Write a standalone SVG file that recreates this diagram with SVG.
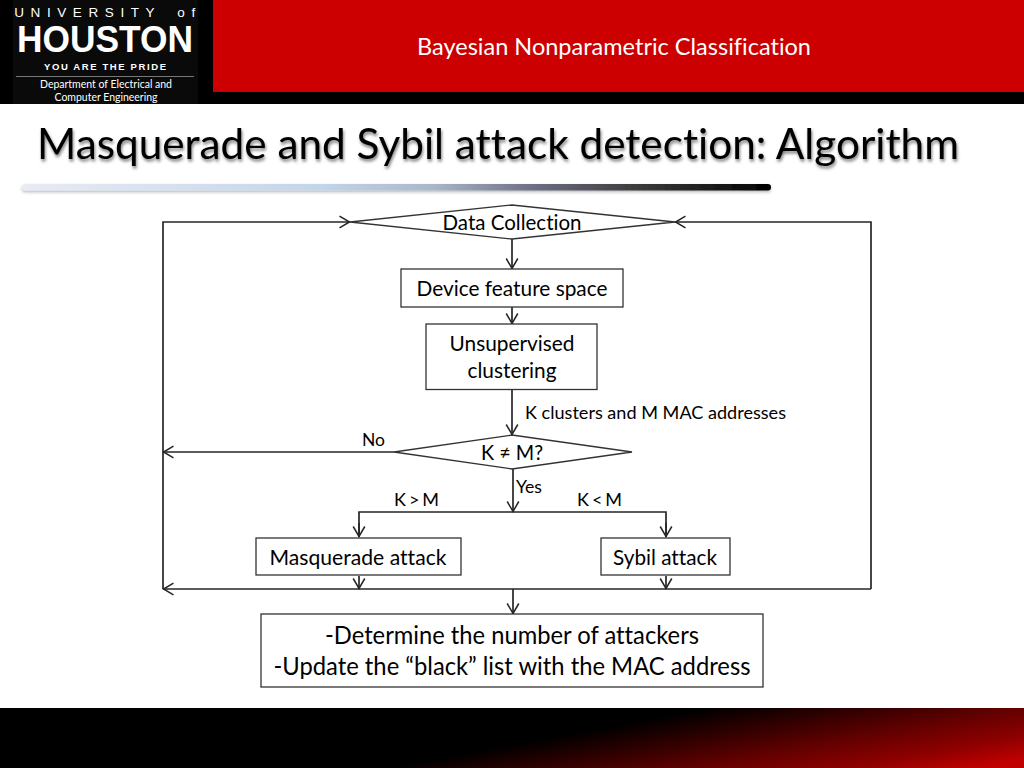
<svg xmlns="http://www.w3.org/2000/svg" width="1024" height="768" viewBox="0 0 1024 768">
<style>
text{font-family:Lato,"Noto Sans",sans-serif;fill:#000;font-variant-ligatures:none}
.c{text-anchor:middle}
.n{fill:#fff;stroke:#333;stroke-width:1.3}
.l{fill:none;stroke:#262626;stroke-width:1.7}
.t{font-size:21.5px}
.s{font-size:18px}
.logo{fill:#fff;text-anchor:middle;font-family:"Liberation Sans",sans-serif}
</style>
<defs>
<linearGradient id="bar" x1="0" x2="1" y1="0" y2="0"><stop offset="0" stop-color="#e8ebf4"/><stop offset=".4" stop-color="#c3d5ea"/><stop offset=".55" stop-color="#a9b6ca"/><stop offset=".68" stop-color="#6f6f86"/><stop offset=".82" stop-color="#3c3c3c"/><stop offset="1" stop-color="#000"/></linearGradient>
<linearGradient id="foot" gradientUnits="userSpaceOnUse" x1="385" y1="768" x2="407" y2="886"><stop offset="0" stop-color="#000"/><stop offset=".5" stop-color="#680000"/><stop offset=".72" stop-color="#900000"/><stop offset=".9" stop-color="#c00000"/></linearGradient>
<filter id="sh" x="-5%" y="-30%" width="110%" height="170%"><feDropShadow dx="1" dy="2.5" stdDeviation="1.8" flood-color="#000" flood-opacity=".5"/></filter>
<filter id="shb" x="-2%" y="-100%" width="104%" height="320%"><feDropShadow dx="0" dy="1.5" stdDeviation="1.5" flood-color="#000" flood-opacity=".3"/></filter>
<marker id="a" viewBox="0 0 14 14" refX="13" refY="7" markerWidth="14" markerHeight="14" markerUnits="userSpaceOnUse" orient="auto"><path d="M2.5 1.2L12.5 7L2.5 12.8" fill="none" stroke="#262626" stroke-width="1.5"/></marker>
</defs>
<rect width="1024" height="768" fill="#fff"/>
<g id="header">
<rect width="1024" height="104" fill="#000"/>
<rect x="213" width="811" height="92" fill="#cc0000"/>
<rect x="13" width="185" height="104" fill="#0a0a0a"/>
<text class="logo" x="108" y="16.500" font-size="13.500" word-spacing="6" letter-spacing="6.600">UNIVERSITY of</text>
<text class="logo" x="105" y="52" font-size="36" font-weight="700" textLength="176" lengthAdjust="spacingAndGlyphs">HOUSTON</text>
<text class="logo" x="105" y="70" font-size="9.500" font-weight="700" textLength="122">YOU ARE THE PRIDE</text>
<rect x="16" y="76" width="178" height="1" fill="#777"/>
<text class="logo" x="106" y="88" font-size="10.500" textLength="132" lengthAdjust="spacingAndGlyphs" style="font-family:Lato,sans-serif">Department of Electrical and</text>
<text class="logo" x="106" y="101" font-size="10.500" textLength="103" lengthAdjust="spacingAndGlyphs" style="font-family:Lato,sans-serif">Computer Engineering</text>
<text x="614" y="55" class="c" font-size="23" style="fill:#fff" textLength="394" lengthAdjust="spacingAndGlyphs">Bayesian Nonparametric Classification</text>
</g>
<text x="37" y="159" font-size="43" font-weight="400" textLength="922" lengthAdjust="spacingAndGlyphs" filter="url(#sh)">Masquerade and Sybil attack detection: Algorithm</text>
<rect x="22" y="184" width="749" height="6.500" rx="3.200" fill="url(#bar)" filter="url(#shb)"/>
<rect y="708" width="1024" height="60" fill="url(#foot)"/>
<g id="connectors">
<path class="l" d="M512 239V269" marker-end="url(#a)"/>
<path class="l" d="M512 307V324" marker-end="url(#a)"/>
<path class="l" d="M512 390V435" marker-end="url(#a)"/>
<path class="l" d="M394 452H163" marker-end="url(#a)"/>
<path class="l" d="M513 469V512" marker-end="url(#a)"/>
<path class="l" d="M359 537V512H666V537"/>
<path class="l" d="M359 523V537" marker-end="url(#a)"/>
<path class="l" d="M666 523V537" marker-end="url(#a)"/>
<path class="l" d="M359 576V589" marker-end="url(#a)"/>
<path class="l" d="M666 576V589" marker-end="url(#a)"/>
<path class="l" d="M871 589H163" marker-end="url(#a)"/>
<path class="l" d="M513 589V614" marker-end="url(#a)"/>
<path class="l" d="M163 589V222H350" marker-end="url(#a)"/>
<path class="l" d="M871 589V222H675" marker-end="url(#a)"/>
</g>
<g id="data-collection"><path class="n" d="M350 222L512 205L675 222L512 239Z"/><text class="c t" x="512" y="230" textLength="139" lengthAdjust="spacingAndGlyphs">Data Collection</text></g>
<g id="feature-space"><rect class="n" x="401" y="269" width="222" height="38"/><text class="c t" x="512" y="296" textLength="191" lengthAdjust="spacingAndGlyphs">Device feature space</text></g>
<g id="clustering"><rect class="n" x="426" y="324" width="171" height="65.500"/><text class="c t" x="512" y="351" textLength="125" lengthAdjust="spacingAndGlyphs">Unsupervised</text><text class="c t" x="512" y="378" textLength="89" lengthAdjust="spacingAndGlyphs">clustering</text></g>
<g id="decision"><path class="n" d="M394 452L512 435L632 452L512 469Z"/><text class="c t" x="512" y="460" textLength="62" lengthAdjust="spacingAndGlyphs">K ≠ M?</text></g>
<g id="masquerade"><rect class="n" x="256" y="538" width="205" height="37"/><text class="c t" x="358" y="565" textLength="177" lengthAdjust="spacingAndGlyphs">Masquerade attack</text></g>
<g id="sybil"><rect class="n" x="601" y="538" width="129" height="37"/><text class="c t" x="665" y="565" textLength="104" lengthAdjust="spacingAndGlyphs">Sybil attack</text></g>
<g id="result"><rect class="n" x="261" y="614" width="502" height="73"/><text class="c" font-size="24.500" x="512" y="644" textLength="374" lengthAdjust="spacingAndGlyphs">-Determine the number of attackers</text><text class="c" font-size="24.500" x="512" y="675" textLength="477" lengthAdjust="spacingAndGlyphs">-Update the “black” list with the MAC address</text></g>
<g id="labels">
<text class="s" x="525" y="419" textLength="261" lengthAdjust="spacingAndGlyphs">K clusters and M MAC addresses</text>
<text class="s" x="362" y="446" textLength="23" lengthAdjust="spacingAndGlyphs">No</text>
<text class="s" x="516" y="493" textLength="26" lengthAdjust="spacingAndGlyphs">Yes</text>
<text class="s" x="394" y="506" textLength="45">K &gt; M</text>
<text class="s" x="577" y="506" textLength="45">K &lt; M</text>
</g>
</svg>
